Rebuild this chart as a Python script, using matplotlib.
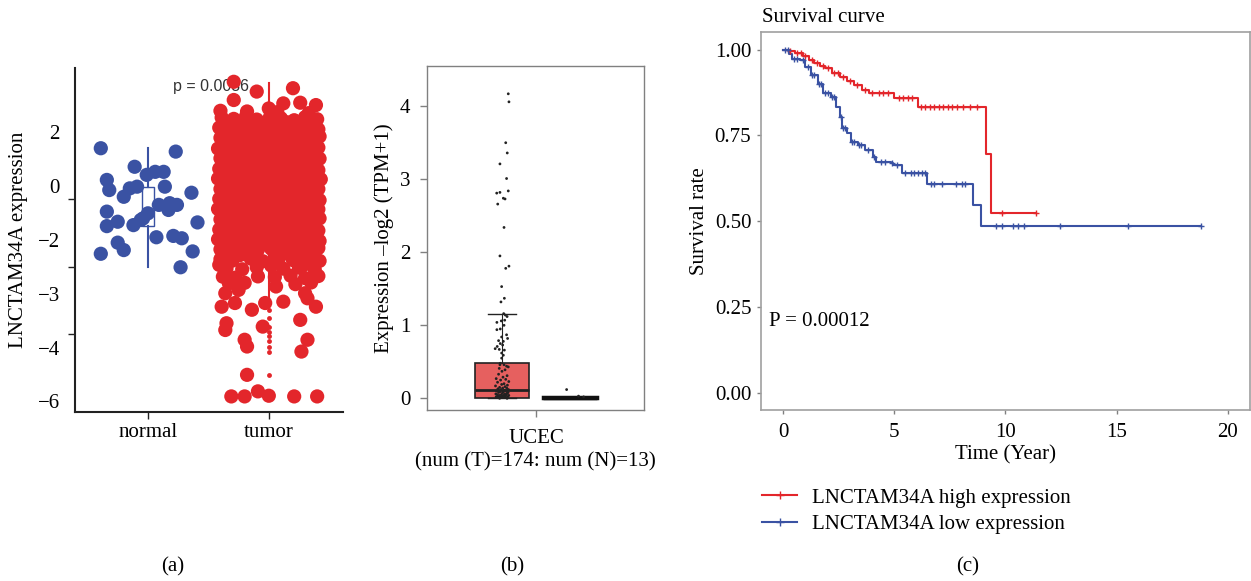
import matplotlib
matplotlib.use("Agg")
from matplotlib import pyplot as plt

plt.rcParams['font.family'] = ['Liberation Serif', 'DejaVu Serif']
plt.rcParams['font.size'] = 15

# DATA =========================================================================
# (a) LNCTAM34A expression, points as (jitter offset, expression)
normal_points = [(-0.39, 1.51), (0.23, 1.41), (-0.11, 0.96), (-0.34, 0.57), (-0.32, 0.27),
                 (-0.01, 0.72), (0.06, 0.81), (0.13, 0.81), (0.14, 0.37), (0.36, 0.19),
                 (-0.20, 0.07), (-0.15, 0.32), (-0.09, 0.37), (-0.34, -0.37), (-0.25, -0.67),
                 (-0.34, -0.80), (-0.12, -0.77), (-0.04, -0.57), (0.00, -0.42), (0.09, -0.17),
                 (0.18, -0.12), (0.24, -0.17), (0.17, -0.32), (0.41, -0.69), (0.07, -1.13),
                 (0.21, -1.09), (0.28, -1.16), (-0.25, -1.29), (-0.20, -1.51), (-0.39, -1.62),
                 (0.37, -1.55), (0.27, -2.02), (-0.06, -0.62)]
normal_box = dict(q1=-0.81, q3=0.35, med=-0.45, whislo=-2.0, whishi=1.51)

tumor_points = [
    (-0.29, 3.48), (-0.29, 2.94), (-0.10, 3.19), (0.20, 3.29), (0.00, 2.69), (0.12, 2.84),
    (0.39, 2.79), (0.26, 2.86), (-0.40, 2.62), (0.33, 2.55), (-0.18, 2.60), (0.07, 2.58),
    (-0.39, 2.42), (-0.29, 2.38), (-0.19, 2.45), (-0.10, 2.36), (0.01, 2.44), (0.10, 2.40),
    (0.21, 2.34), (0.30, 2.43), (0.40, 2.37),
    (-0.35, 2.27), (-0.24, 2.22), (-0.15, 2.29), (-0.05, 2.25), (0.06, 2.21), (0.15, 2.28),
    (0.26, 2.24), (0.36, 2.26),
    (-0.41, 2.12), (-0.31, 2.08), (-0.21, 2.15), (-0.11, 2.10), (-0.02, 2.05), (0.09, 2.13),
    (0.18, 2.09), (0.29, 2.16), (0.41, 2.07),
    (-0.36, 1.97), (-0.25, 1.93), (-0.16, 2.00), (-0.06, 1.95), (0.05, 1.92), (0.16, 1.99),
    (0.25, 1.94), (0.37, 1.96),
    (-0.40, 1.82), (-0.30, 1.76), (-0.20, 1.85), (-0.12, 1.79), (0.00, 1.83), (0.11, 1.77),
    (0.20, 1.84), (0.31, 1.80), (0.42, 1.86),
    (-0.35, 1.65), (-0.26, 1.68), (-0.14, 1.62), (-0.05, 1.66), (0.07, 1.63), (0.16, 1.69),
    (0.27, 1.64), (0.36, 1.67),
    (-0.42, 1.50), (-0.32, 1.55), (-0.22, 1.47), (-0.10, 1.52), (0.02, 1.45), (0.12, 1.54),
    (0.22, 1.49), (0.32, 1.46), (0.41, 1.53),
    (-0.36, 1.35), (-0.25, 1.32), (-0.15, 1.38), (-0.04, 1.34), (0.06, 1.31), (0.17, 1.37),
    (0.26, 1.33), (0.37, 1.36),
    (-0.40, 1.21), (-0.29, 1.17), (-0.19, 1.24), (-0.09, 1.19), (0.01, 1.22), (0.10, 1.15),
    (0.21, 1.23), (0.31, 1.18), (0.42, 1.20),
    (-0.35, 1.05), (-0.24, 1.08), (-0.15, 1.02), (-0.06, 1.06), (0.05, 1.03), (0.16, 1.07),
    (0.25, 1.04), (0.36, 1.01),
    (-0.41, 0.90), (-0.31, 0.95), (-0.20, 0.87), (-0.11, 0.92), (0.00, 0.88), (0.11, 0.94),
    (0.19, 0.89), (0.30, 0.93), (0.41, 0.86),
    (-0.36, 0.75), (-0.26, 0.72), (-0.15, 0.78), (-0.05, 0.74), (0.06, 0.71), (0.15, 0.77),
    (0.26, 0.73), (0.37, 0.76),
    (-0.42, 0.61), (-0.30, 0.57), (-0.21, 0.64), (-0.10, 0.60), (0.02, 0.55), (0.12, 0.62),
    (0.22, 0.58), (0.31, 0.63), (0.43, 0.59),
    (-0.35, 0.45), (-0.25, 0.48), (-0.14, 0.42), (-0.04, 0.46), (0.07, 0.43), (0.16, 0.47),
    (0.27, 0.44), (0.36, 0.41),
    (-0.40, 0.30), (-0.31, 0.26), (-0.19, 0.33), (-0.09, 0.28), (0.01, 0.31), (0.10, 0.25),
    (0.20, 0.32), (0.32, 0.27), (0.41, 0.30),
    (-0.36, 0.15), (-0.25, 0.12), (-0.15, 0.18), (-0.05, 0.14), (0.05, 0.11), (0.16, 0.17),
    (0.26, 0.13), (0.36, 0.16),
    (-0.41, 0.01), (-0.29, -0.04), (-0.20, 0.03), (-0.11, -0.02), (0.00, 0.02), (0.11, -0.05),
    (0.21, 0.00), (0.30, 0.04), (0.42, -0.03),
    (-0.35, -0.15), (-0.24, -0.18), (-0.16, -0.12), (-0.06, -0.16), (0.06, -0.13), (0.15, -0.17),
    (0.26, -0.14), (0.37, -0.11),
    (-0.42, -0.29), (-0.31, -0.33), (-0.21, -0.26), (-0.10, -0.31), (0.02, -0.28), (0.12, -0.34),
    (0.20, -0.27), (0.31, -0.32), (0.41, -0.30),
    (-0.36, -0.45), (-0.26, -0.42), (-0.15, -0.48), (-0.05, -0.44), (0.07, -0.41), (0.16, -0.47),
    (0.25, -0.43), (0.36, -0.46),
    (-0.40, -0.60), (-0.30, -0.56), (-0.19, -0.63), (-0.09, -0.58), (0.01, -0.61), (0.11, -0.55),
    (0.22, -0.62), (0.32, -0.59), (0.42, -0.57),
    (-0.35, -0.75), (-0.25, -0.78), (-0.14, -0.72), (-0.04, -0.76), (0.06, -0.73), (0.17, -0.77),
    (0.27, -0.74), (0.37, -0.71),
    (-0.41, -0.90), (-0.31, -0.94), (-0.20, -0.87), (-0.11, -0.92), (-0.01, -0.89), (0.10, -0.95),
    (0.21, -0.88), (0.30, -0.91), (0.41, -0.93),
    (-0.36, -1.05), (-0.25, -1.02), (-0.15, -1.08), (-0.06, -1.04), (0.05, -1.01), (0.16, -1.07),
    (0.26, -1.03), (0.36, -1.06),
    (-0.42, -1.19), (-0.30, -1.23), (-0.21, -1.16), (-0.10, -1.21), (0.01, -1.25), (0.12, -1.18),
    (0.20, -1.22), (0.31, -1.17), (0.42, -1.24),
    (-0.35, -1.35), (-0.26, -1.32), (-0.15, -1.38), (-0.05, -1.34), (0.06, -1.31), (0.15, -1.37),
    (0.27, -1.33), (0.37, -1.36),
    (-0.40, -1.49), (-0.31, -1.52), (-0.19, -1.46), (-0.09, -1.50), (0.02, -1.47), (0.11, -1.53),
    (0.21, -1.48), (0.32, -1.51), (0.41, -1.45),
    (-0.36, -1.63), (-0.24, -1.66), (-0.14, -1.61), (0.05, -1.64), (0.16, -1.62), (0.27, -1.67),
    (0.37, -1.60),
    (-0.40, -1.78), (-0.30, -1.82), (-0.15, -1.76), (-0.05, -1.84), (0.08, -1.79), (0.20, -1.81),
    (0.33, -1.77), (0.42, -1.83),
    (-0.35, -2.05), (-0.22, -2.08), (-0.10, -2.02), (0.12, -2.06), (0.25, -2.03), (0.38, -2.09),
    (-0.41, -1.95), (0.02, -1.97), (0.30, -1.93),
    (-0.38, -2.30), (-0.28, -2.33), (-0.09, -2.29), (0.05, -2.31), (0.18, -2.27), (0.30, -2.34),
    (0.41, -2.28), (-0.33, -2.50), (-0.20, -2.48), (0.22, -2.52), (0.35, -2.47),
    (-0.36, -2.79), (-0.39, -3.19), (-0.28, -3.08), (-0.25, -2.69), (-0.14, -3.28), (-0.35, -3.68),
    (-0.36, -3.88), (-0.20, -4.17), (-0.18, -4.37), (-0.05, -3.78), (-0.03, -3.08), (0.12, -3.04),
    (0.06, -2.59), (0.26, -3.58), (0.30, -2.79), (0.39, -3.19), (0.32, -2.94), (0.32, -4.17),
    (0.27, -4.52), (-0.18, -5.21), (-0.31, -5.85), (-0.20, -5.85), (-0.09, -5.70), (0.00, -5.83),
    (0.21, -5.85), (0.40, -5.85)]
tumor_box = dict(q1=-1.2, q3=1.2, med=0.2, whislo=-3.1, whishi=3.43,
                 fliers=[-3.28, -3.53, -3.78, -3.93, -4.07, -4.22, -4.37, -4.52, -5.21])

a_tick_pos = [2, 0.4, -1.2, -2.8, -4.4, -6]
a_tick_lab = ['2', '0', '\u22122', '\u22123', '\u22124', '\u22126']

# (b) GEPIA UCEC expression
b_tumor_box = dict(q1=0.0, q3=0.48, med=0.12, whislo=0.0, whishi=1.15)
b_normal_box = dict(q1=0.0, q3=0.02, med=0.0, whislo=0.0, whishi=0.02)
b_tumor_points = [
    (0.037, 4.17), (0.041, 4.06), (0.022, 3.50), (0.031, 3.36), (-0.012, 3.21), (0.027, 3.01),
    (-0.031, 2.81), (-0.012, 2.82), (0.037, 2.84), (-0.025, 2.66), (0.008, 2.74), (0.018, 2.73),
    (0.012, 2.34), (-0.012, 1.95), (0.022, 1.78), (0.041, 1.81), (-0.002, 1.53), (0.014, 1.37),
    (-0.006, 1.32), (0.010, 1.16), (0.020, 1.14), (0.030, 1.12), (0.016, 1.07), (-0.004, 1.06),
    (-0.030, 1.04), (0.012, 1.00), (-0.010, 0.95), (-0.030, 0.94), (0.027, 0.87), (-0.002, 0.84),
    (0.033, 0.82), (-0.020, 0.79), (0.008, 0.78), (-0.010, 0.75), (0.004, 0.73), (-0.028, 0.71),
    (-0.040, 0.68), (-0.016, 0.67), (0.014, 0.66), (-0.002, 0.62), (0.008, 0.59), (-0.002, 0.55),
    (-0.010, 0.48), (-0.012, 0.46), (0.012, 0.46), (0.027, 0.44), (0.037, 0.43), (-0.016, 0.41),
    (0.018, 0.39), (0.000, 0.37), (-0.020, 0.33), (0.030, 0.31), (0.006, 0.29), (-0.034, 0.27),
    (0.022, 0.26), (-0.008, 0.25), (0.040, 0.23), (-0.026, 0.22), (0.012, 0.20), (-0.002, 0.19),
    (0.032, 0.18), (-0.038, 0.17), (0.018, 0.16), (-0.014, 0.15), (0.004, 0.14), (0.028, 0.14),
    (-0.024, 0.13), (0.038, 0.12), (-0.006, 0.12), (0.014, 0.11), (-0.032, 0.10), (0.024, 0.10),
    (-0.012, 0.09), (0.008, 0.09), (0.036, 0.08), (-0.020, 0.08), (0.002, 0.07), (0.030, 0.07),
    (-0.036, 0.06), (0.016, 0.06), (-0.004, 0.05), (0.026, 0.05), (-0.028, 0.05), (0.010, 0.04),
    (-0.016, 0.04), (0.040, 0.04), (0.000, 0.03), (0.020, 0.03), (-0.022, 0.03), (0.034, 0.02),
    (-0.010, 0.02), (0.006, 0.02), (-0.034, 0.02), (0.022, 0.01), (-0.002, 0.01), (0.012, 0.01),
    (-0.026, 0.01), (0.030, 0.00), (-0.014, 0.00)]
b_normal_points = [(-0.020, 0.12), (0.050, 0.03), (0.080, 0.02)]

# (c) Kaplan-Meier, LNCTAM34A high / low
high_time = [0, 0.25, 0.55, 0.9, 1.15, 1.4, 1.65, 1.9, 2.2, 2.55, 2.85, 3.2, 3.55, 3.85,
             5.0, 6.07, 9.13, 9.34, 11.39]
high_surv = [1.0, 0.995, 0.99, 0.98, 0.97, 0.962, 0.953, 0.945, 0.933, 0.921, 0.908, 0.896,
             0.882, 0.872, 0.858, 0.833, 0.696, 0.523, 0.523]
high_cens = [0.3, 0.6, 0.8, 1.0, 1.3, 1.5, 1.8, 2.0, 2.3, 2.45, 2.7, 3.0, 3.3, 3.7, 4.0, 4.3,
             4.5, 4.7, 5.2, 5.4, 5.6, 5.8, 6.2, 6.4, 6.6, 6.8, 7.0, 7.2, 7.4, 7.6, 7.8, 8.1,
             8.4, 8.7, 9.84, 11.39]
low_time = [0, 0.25, 0.41, 0.74, 0.98, 1.23, 1.56, 1.8, 2.13, 2.38, 2.54, 2.66, 2.87, 3.03,
            3.36, 3.69, 4.02, 4.18, 4.84, 4.92, 5.33, 6.48, 8.52, 8.9, 18.8]
low_surv = [1.0, 0.988, 0.971, 0.969, 0.95, 0.925, 0.90, 0.872, 0.862, 0.833, 0.804, 0.770,
            0.756, 0.732, 0.722, 0.707, 0.688, 0.673, 0.669, 0.664, 0.640, 0.609, 0.546,
            0.486, 0.486]
low_cens = [0.1, 0.2, 0.5, 0.6, 0.9, 1.1, 1.3, 1.4, 1.6, 1.7, 1.9, 2.0, 2.2, 2.3, 2.6, 2.7,
            2.8, 3.1, 3.2, 3.4, 3.5, 3.8, 4.1, 4.4, 4.6, 4.9, 5.1, 5.5, 5.74, 5.9, 6.07, 6.23,
            6.39, 6.64, 6.8, 7.13, 7.79, 8.03, 8.2, 9.59, 9.84, 10.33, 10.57, 10.82, 12.46,
            15.49, 18.8]

RED = '#E3262B'
BLUE = '#3A52A3'
GREY = '#808080'


def surv_at(times, surv, t):
    # value of the step curve at time t
    s = surv[0]
    for tt, ss in zip(times, surv):
        if tt <= t:
            s = ss
    return s


fig = plt.figure(figsize=(12.51, 5.81), dpi=100)

# PANEL (a) ====================================================================
ax = fig.add_axes([0.060, 0.291, 0.214, 0.592])
nb = dict(normal_box, fliers=[])
ax.bxp([nb], positions=[0], widths=0.10, patch_artist=True, showcaps=False,
       boxprops=dict(facecolor='white', edgecolor=BLUE, linewidth=1.0),
       whiskerprops=dict(color=BLUE, linewidth=1.5),
       medianprops=dict(color=BLUE, linewidth=1.0), zorder=1)
ax.bxp([tumor_box], positions=[1], widths=0.10, patch_artist=True, showcaps=False,
       boxprops=dict(facecolor=RED, edgecolor=RED, linewidth=1.0),
       whiskerprops=dict(color=RED, linewidth=1.5),
       medianprops=dict(color=RED, linewidth=1.0),
       flierprops=dict(marker='o', markersize=3.5, markerfacecolor=RED,
                       markeredgecolor='none'), zorder=1)
ax.text(0.207, 3.33, 'p = 0.0036', family=['Liberation Sans', 'DejaVu Sans'],
        fontsize=11.5, color='#333333', ha='left', va='center', zorder=2)
ax.scatter([0 + p[0] for p in normal_points], [p[1] for p in normal_points],
           s=105, color=BLUE, edgecolors='none', zorder=3)
ax.scatter([1 + p[0] for p in tumor_points], [p[1] for p in tumor_points],
           s=105, color=RED, edgecolors='none', zorder=3)

ax.set_xlim(-0.603, 1.612)
ax.set_ylim(-6.31, 3.89)
ax.set_xticks([0, 1])
ax.set_xticklabels(['normal', 'tumor'])
ax.set_yticks(a_tick_pos)
ax.set_yticklabels(a_tick_lab)
ax.set_yticks([2, 0, -2, -4, -6], minor=True)
ax.tick_params(axis='y', which='major', length=0, pad=11)
ax.tick_params(axis='y', which='minor', length=5, width=1.0, color='#222222')
ax.tick_params(axis='x', length=5, width=1.0, color='#222222', pad=3)
for s in ['top', 'right']:
    ax.spines[s].set_visible(False)
for s in ['left', 'bottom']:
    ax.spines[s].set_linewidth(1.5)
    ax.spines[s].set_color('#222222')
ax.set_ylabel('LNCTAM34A expression')
ax.yaxis.set_label_coords(-0.175, 0.5)

# PANEL (b) ====================================================================
bx = fig.add_axes([0.3413, 0.2943, 0.1735, 0.592])
bt = dict(b_tumor_box, fliers=[])
bn = dict(b_normal_box, fliers=[])
bx.bxp([bt], positions=[0.8], widths=0.32, patch_artist=True, capwidths=[0.17],
       boxprops=dict(facecolor='#E6605F', edgecolor='#222222', linewidth=1.2),
       whiskerprops=dict(color='#222222', linewidth=0.8),
       capprops=dict(color='#222222', linewidth=1.0),
       medianprops=dict(color='#222222', linewidth=2.0), zorder=1)
bx.bxp([bn], positions=[1.2], widths=0.32, patch_artist=True, capwidths=[0.17],
       boxprops=dict(facecolor='#111111', edgecolor='#111111', linewidth=2.5),
       whiskerprops=dict(color='#111111', linewidth=1.0),
       capprops=dict(color='#111111', linewidth=1.0),
       medianprops=dict(color='#111111', linewidth=2.5), zorder=1)
bx.scatter([0.8 + p[0] for p in b_tumor_points], [p[1] for p in b_tumor_points],
           s=4, color='#222222', edgecolors='none', zorder=3)
bx.scatter([1.2 + p[0] for p in b_normal_points], [p[1] for p in b_normal_points],
           s=4, color='#222222', edgecolors='none', zorder=3)

bx.set_xlim(0.359, 1.635)
bx.set_ylim(-0.16, 4.55)
bx.set_xticks([1.0])
bx.set_xticklabels(['UCEC'])
bx.set_yticks([0, 1, 2, 3, 4])
bx.tick_params(axis='both', length=5, width=1.0, color=GREY)
bx.tick_params(axis='y', pad=7)
bx.tick_params(axis='x', pad=9)
for s in bx.spines.values():
    s.set_color(GREY)
    s.set_linewidth(1.0)
bx.set_xlabel('(num (T)=174: num (N)=13)', labelpad=3)
bx.set_ylabel('Expression \u2013log2 (TPM+1)')
bx.yaxis.set_label_coords(-0.15, 0.5)

# PANEL (c) ====================================================================
cx = fig.add_axes([0.6083, 0.2943, 0.3909, 0.650])
cx.step(high_time, high_surv, where='post', color=RED, linewidth=1.5,
        label='LNCTAM34A high expression')
cx.step(low_time, low_surv, where='post', color=BLUE, linewidth=1.5,
        label='LNCTAM34A low expression')
cx.plot(high_cens, [surv_at(high_time, high_surv, t) for t in high_cens], '+',
        color=RED, markersize=5, markeredgewidth=1.0)
cx.plot(low_cens, [surv_at(low_time, low_surv, t) for t in low_cens], '+',
        color=BLUE, markersize=5, markeredgewidth=1.0)
cx.text(-0.62, 0.208, 'P = 0.00012', ha='left', va='center')

cx.set_xlim(-1, 21)
cx.set_ylim(-0.05, 1.05)
cx.set_xticks([0, 5, 10, 15, 20])
cx.set_yticks([0, 0.25, 0.5, 0.75, 1.0])
cx.set_yticklabels(['0.00', '0.25', '0.50', '0.75', '1.00'])
cx.tick_params(axis='both', length=3, width=1.0, color=GREY, pad=4)
cx.tick_params(axis='x', pad=6)
for s in cx.spines.values():
    s.set_color('#A0A0A0')
    s.set_linewidth(1.2)
cx.set_xlabel('Time (Year)', labelpad=3)
cx.set_ylabel('Survival rate')
cx.yaxis.set_label_coords(-0.107, 0.5)
fig.text(762 / 1251, 1 - 18 / 581, 'Survival curve', ha='left', va='center')
leg = cx.legend(loc='upper left', bbox_to_anchor=(762 / 1251, 1 - 488 / 581),
                bbox_transform=fig.transFigure, frameon=False, borderpad=0,
                borderaxespad=0, handlelength=1.7, handletextpad=0.7, labelspacing=0.35)
for h in leg.legend_handles:
    h.set_marker('+')
    h.set_markersize(6)

# panel letters
fig.text(173 / 1251, 1 - 567 / 581, '(a)', ha='center', va='center')
fig.text(512 / 1251, 1 - 567 / 581, '(b)', ha='center', va='center')
fig.text(968 / 1251, 1 - 567 / 581, '(c)', ha='center', va='center')

fig.savefig('out.png', dpi=100)
